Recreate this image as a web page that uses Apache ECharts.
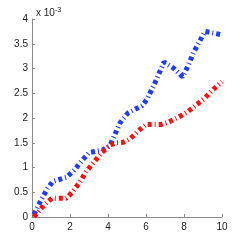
<!DOCTYPE html>
<html><head><meta charset="utf-8">
<script src="https://cdn.jsdelivr.net/npm/echarts@6/dist/echarts.min.js"></script>
<style>html,body{margin:0;padding:0;background:#fff}#c{width:245px;height:245px}</style>
</head><body><div id="c"></div>
<script>
const blueX = [0.1,0.5,0.82,1.1,1.8,2.21,2.63,3.0,3.7,4.1,4.63,5.05,5.8,6.05,6.4,6.95,7.44,7.93,8.23,8.5,9.1,10];
const blueY = [0.05,0.36,0.58,0.72,0.8,0.94,1.14,1.3,1.35,1.44,1.9,2.1,2.25,2.38,2.65,3.13,3.01,2.83,3.07,3.32,3.75,3.68];
const redX = [0.1,0.65,1.05,1.8,2.09,2.49,2.84,3.26,3.67,4.1,4.4,4.8,5.16,5.6,6.0,6.8,7.14,7.67,8.14,8.63,9.09,9.54,10];
const redY = [0.0,0.25,0.38,0.38,0.49,0.69,0.91,1.11,1.3,1.45,1.5,1.51,1.58,1.74,1.87,1.87,1.91,2.01,2.11,2.26,2.4,2.58,2.73];
const xTicks = [0,2,4,6,8,10];
const yTicks = [0,0.5,1,1.5,2,2.5,3,3.5,4];

const pairs = (xs, ys) => xs.map((x, i) => [x, ys[i]]);
const chart = echarts.init(document.getElementById('c'), null, {renderer: 'canvas'});
const axisCommon = {
  axisLine: {show: true, lineStyle: {color: '#8a8a8a', width: 1}},
  axisTick: {show: true, inside: true, length: 3, lineStyle: {color: '#8a8a8a'}},
  splitLine: {show: false},
  axisLabel: {color: '#222', fontFamily: 'Liberation Sans', fontSize: 10}
};
chart.setOption({
  animation: false,
  grid: {left: 32, right: 23, top: 19, bottom: 28, containLabel: false},
  title: {
    text: 'x 10{s|-3}', left: 31, top: 2,
    textStyle: {fontFamily: 'Liberation Sans', fontSize: 10, fontWeight: 'normal', color: '#222',
      rich: {s: {fontSize: 7, verticalAlign: 'top', padding: [0,0,6,0], color: '#222', fontFamily: 'Liberation Sans'}}}
  },
  xAxis: Object.assign({type: 'value', min: 0, max: 10, interval: 2}, axisCommon,
    {axisLabel: Object.assign({}, axisCommon.axisLabel, {margin: 5, formatter: v => xTicks.includes(v) ? String(v) : ''})}),
  yAxis: Object.assign({type: 'value', min: 0, max: 4, interval: 0.5}, axisCommon,
    {axisLabel: Object.assign({}, axisCommon.axisLabel, {margin: 4, formatter: v => yTicks.includes(v) ? String(v) : ''})}),
  series: [
    {type: 'line', data: pairs(blueX, blueY), showSymbol: false, smooth: false,
     lineStyle: {color: '#1f3cff', width: 5, type: [4, 3, 1, 3], cap: 'butt'}},
    {type: 'line', data: pairs(redX, redY), showSymbol: false, smooth: false,
     lineStyle: {color: '#ff1010', width: 5, type: [4, 3, 1, 3], cap: 'butt'}}
  ]
});
</script></body></html>
